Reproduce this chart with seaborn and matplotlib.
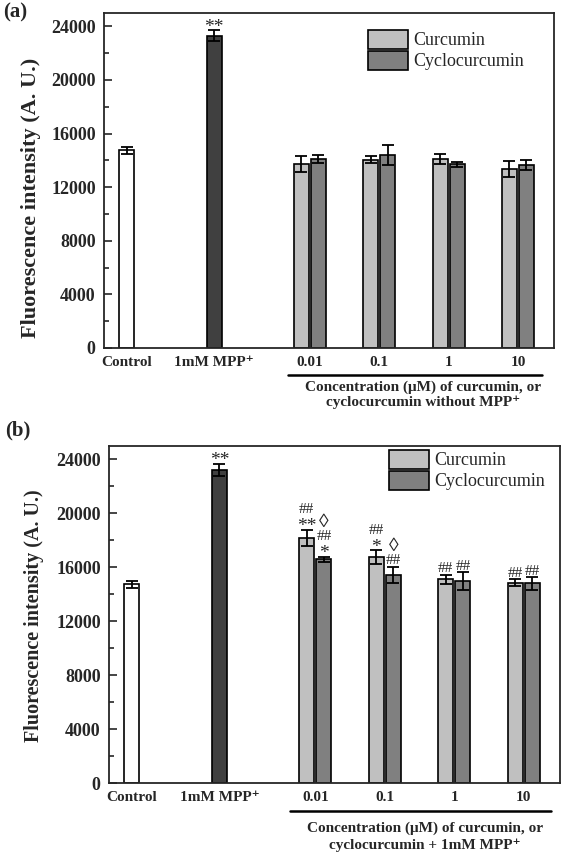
import numpy as np
import pandas as pd
import matplotlib.pyplot as plt
import seaborn as sns
from matplotlib.patches import Patch
from matplotlib.lines import Line2D

# datos
tick_labels = ['Control', '1mM MPP⁺', '0.01', '0.1', '1', '10']
series_names = ['Curcumin', 'Cyclocurcumin']

# (a) sin MPP+
a_control, a_control_err = 14750, 250
a_mpp, a_mpp_err = 23300, 420
a_cur = [13700, 14050, 14100, 13350]
a_cur_err = [600, 250, 400, 600]
a_cyc = [14100, 14400, 13700, 13650]
a_cyc_err = [300, 750, 200, 400]

# (b) con 1mM MPP+
b_control, b_control_err = 14750, 250
b_mpp, b_mpp_err = 23250, 450
b_cur = [18200, 16750, 15100, 14850]
b_cur_err = [600, 500, 350, 250]
b_cyc = [16600, 15450, 15000, 14800]
b_cyc_err = [200, 600, 650, 450]
# marcas de significancia, de abajo hacia arriba
b_cur_marks = [['**', '##'], ['*', '##'], ['##'], ['##']]
b_cyc_marks = [['*', '##', '◊'], ['##', '◊'], ['##'], ['##']]

# posiciones (layout)
slot_pos = [-2.64, -1.38, 0, 1, 2, 3]
pair_off = 0.123
colors = {'Control': 'white', 'MPP': '#404040',
          'Curcumin': '#c0c0c0', 'Cyclocurcumin': '#808080'}
mark_size = {'*': 14, '**': 14, '##': 11, '◊': 14}

sns.set_style('ticks')
plt.rcParams['font.family'] = ['Liberation Serif', 'DejaVu Serif']

W, H = 566, 856
fig = plt.figure(figsize=(W / 100, H / 100), dpi=100)


def px_axes(l, t, r, b):
    return fig.add_axes([l / W, 1 - b / H, (r - l) / W, (b - t) / H])


def make_df(control, control_err, mpp, mpp_err, cur, cur_err, cyc, cyc_err):
    rows = [('Control', slot_pos[0], control, control_err),
            ('MPP', slot_pos[1], mpp, mpp_err)]
    for i in range(4):
        rows.append(('Curcumin', slot_pos[2 + i] - pair_off, cur[i], cur_err[i]))
        rows.append(('Cyclocurcumin', slot_pos[2 + i] + pair_off, cyc[i], cyc_err[i]))
    return pd.DataFrame(rows, columns=['series', 'pos', 'value', 'err'])


def draw_panel(ax, df, leg_xy, ylabel_size, ylabel_xy):
    sns.barplot(data=df, x='pos', y='value', hue='series', palette=colors,
                native_scale=True, dodge=False, width=0.88, errorbar=None,
                edgecolor='black', linewidth=1.2, legend=False, ax=ax)
    ax.errorbar(df['pos'], df['value'], yerr=df['err'], fmt='none',
                ecolor='black', elinewidth=1.3, capsize=4, capthick=1.3)
    ax.set_xlim(-2.97, 3.52)
    ax.set_ylim(0, 25000)
    ax.set_yticks(np.arange(0, 24001, 4000))
    ax.set_yticks(np.arange(2000, 24001, 4000), minor=True)
    ax.set_xticks(slot_pos)
    ax.set_xticklabels(tick_labels, fontweight='bold', fontsize=11)
    for lab in ax.get_yticklabels():
        lab.set_fontweight('bold')
    ax.tick_params(axis='y', which='major', direction='in', length=6,
                   width=1.2, labelsize=13, pad=6)
    ax.tick_params(axis='y', which='minor', direction='in', length=3.5, width=1.2)
    ax.tick_params(axis='x', length=0, pad=6)
    ax.set_xlabel('')
    ax.set_ylabel('')
    for s in ax.spines.values():
        s.set_linewidth(1.3)
        s.set_visible(True)
    fig.text(ylabel_xy[0] / W, 1 - ylabel_xy[1] / H, 'Fluorescence intensity (A. U.)',
             rotation=90, ha='center', va='center', fontweight='bold',
             fontsize=ylabel_size)
    handles = [Patch(facecolor=colors[n], edgecolor='black', linewidth=1.2)
               for n in series_names]
    ax.legend(handles, series_names, loc='upper left',
              bbox_to_anchor=(leg_xy[0] / W, 1 - leg_xy[1] / H),
              bbox_transform=fig.transFigure, frameon=False, borderpad=0,
              borderaxespad=0, handlelength=2.2, handleheight=1.2,
              handletextpad=0.3, labelspacing=0.1, fontsize=13)


def annotate(ax, x, y, marks):
    # cada linea se apila sobre la barra de error
    for k, m in enumerate(marks):
        dy = 6 + 14 * k
        if '*' in m:
            dy -= 3
        ax.annotate(m, (x, y), xytext=(0, dy), textcoords='offset pixels',
                    ha='center', va='center', fontsize=mark_size[m])


# panel (a)
ax_a = px_axes(104, 13, 554, 348)
df_a = make_df(a_control, a_control_err, a_mpp, a_mpp_err,
               a_cur, a_cur_err, a_cyc, a_cyc_err)
draw_panel(ax_a, df_a, (368, 30), 16, (31, 198))
annotate(ax_a, slot_pos[1], a_mpp + a_mpp_err, ['**'])

# panel (b)
ax_b = px_axes(109, 446, 560, 783)
df_b = make_df(b_control, b_control_err, b_mpp, b_mpp_err,
               b_cur, b_cur_err, b_cyc, b_cyc_err)
draw_panel(ax_b, df_b, (389, 450), 14.5, (34, 616))
annotate(ax_b, slot_pos[1], b_mpp + b_mpp_err, ['**'])
for i in range(4):
    annotate(ax_b, slot_pos[2 + i] - pair_off, b_cur[i] + b_cur_err[i], b_cur_marks[i])
    annotate(ax_b, slot_pos[2 + i] + pair_off, b_cyc[i] + b_cyc_err[i], b_cyc_marks[i])

# rotulos de concentracion bajo el eje
fig.add_artist(Line2D([288 / W, 542 / W], [1 - 375.5 / H] * 2, color='black', lw=1.8))
fig.text(423 / W, 1 - 387 / H, 'Concentration (μM) of curcumin, or',
         ha='center', va='center', fontweight='bold', fontsize=11)
fig.text(423 / W, 1 - 402 / H, 'cyclocurcumin without MPP⁺',
         ha='center', va='center', fontweight='bold', fontsize=11)
fig.add_artist(Line2D([290 / W, 551 / W], [1 - 810.5 / H] * 2, color='black', lw=1.8))
fig.text(425 / W, 1 - 828 / H, 'Concentration (μM) of curcumin, or',
         ha='center', va='center', fontweight='bold', fontsize=11)
fig.text(425 / W, 1 - 845 / H, 'cyclocurcumin + 1mM MPP⁺',
         ha='center', va='center', fontweight='bold', fontsize=11)

fig.text(3 / W, 1 - 12 / H, '(a)', ha='left', va='center', fontweight='bold', fontsize=15)
fig.text(5 / W, 1 - 430 / H, '(b)', ha='left', va='center', fontweight='bold', fontsize=15)

fig.savefig('out.png', dpi=100)
